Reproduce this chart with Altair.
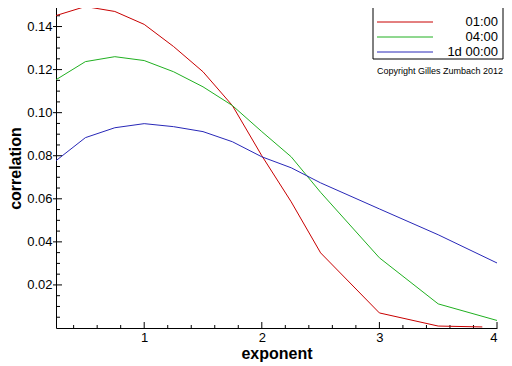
import altair as alt
import pandas as pd

# ---- data ----
series_names = ["01:00", "04:00", "1d 00:00"]
series_colors = ["#c80000", "#20b020", "#2828b8"]

red_x = [0.25, 0.5, 0.75, 1.0, 1.25, 1.5, 1.75, 2.0, 2.25, 2.5, 3.0, 3.5, 3.875]
red_y = [0.1451, 0.1493, 0.1470, 0.1410, 0.1307, 0.1190, 0.1033, 0.0800, 0.0586, 0.0349, 0.0070, 0.0009, 0.0005]

green_x = [0.25, 0.5, 0.75, 1.0, 1.25, 1.5, 1.75, 2.0, 2.25, 2.5, 3.0, 3.5, 4.0]
green_y = [0.1153, 0.1237, 0.1260, 0.1242, 0.1190, 0.1120, 0.1033, 0.0912, 0.0795, 0.0630, 0.0326, 0.0112, 0.0035]

blue_x = [0.25, 0.5, 0.75, 1.0, 1.25, 1.5, 1.75, 2.0, 2.25, 2.5, 3.0, 3.5, 4.0]
blue_y = [0.0777, 0.0884, 0.0930, 0.0949, 0.0935, 0.0912, 0.0865, 0.0795, 0.0744, 0.0674, 0.0553, 0.0433, 0.0302]

x_labels = [1, 2, 3, 4]
x_minor = [0.4, 0.6, 0.8, 1.2, 1.4, 1.6, 1.8, 2.2, 2.4, 2.6, 2.8, 3.2, 3.4, 3.6, 3.8]
y_labels = [0.02, 0.04, 0.06, 0.08, 0.10, 0.12, 0.14]
y_minor = [0.005, 0.01, 0.015, 0.025, 0.03, 0.035, 0.045, 0.05, 0.055, 0.065, 0.07, 0.075,
           0.085, 0.09, 0.095, 0.105, 0.11, 0.115, 0.125, 0.13, 0.135, 0.145]
copyright_text = "Copyright Gilles Zumbach 2012"

# ---- tables ----
rows = []
for name, xs, ys in zip(series_names, [red_x, green_x, blue_x], [red_y, green_y, blue_y]):
    for xv, yv in zip(xs, ys):
        rows.append({"series": name, "x": xv, "y": yv})
df = pd.DataFrame(rows)

W, H = 441, 323
FONT = "Liberation Sans"

x_scale = alt.Scale(domain=[0.25, 4], nice=False, zero=False)
y_scale = alt.Scale(domain=[0, 0.15], nice=False, zero=False)

x_axis = alt.Axis(title="exponent", values=x_labels, format="d",
                  ticks=False, tickSize=0, grid=False, labelPadding=3,
                  labelFontSize=13, labelFont=FONT, labelColor="black",
                  domainColor="black", domainWidth=1,
                  titleFontSize=16, titleFont=FONT, titleFontWeight="bold",
                  titleY=30, titleBaseline="alphabetic", titleColor="black")
y_axis = alt.Axis(title="correlation", values=y_labels, format=".2f",
                  ticks=False, tickSize=0, grid=False, labelPadding=4,
                  labelFontSize=13, labelFont=FONT, labelColor="black",
                  domainColor="black", domainWidth=1,
                  titleFontSize=16, titleFont=FONT, titleFontWeight="bold",
                  titleAngle=270, titleX=-36, titleY=163,
                  titleBaseline="alphabetic", titleAlign="center", titleColor="black")

lines = alt.Chart(df).mark_line(strokeWidth=1).encode(
    x=alt.X("x:Q", scale=x_scale, axis=x_axis),
    y=alt.Y("y:Q", scale=y_scale, axis=y_axis),
    color=alt.Color("series:N",
                    scale=alt.Scale(domain=series_names, range=series_colors),
                    legend=None),
    order=alt.Order("x:Q"),
)

xmaj = alt.Chart(pd.DataFrame({"x": x_labels})).mark_rule(color="black", strokeWidth=1).encode(
    x=alt.X("x:Q", scale=x_scale, axis=x_axis), y=alt.value(H), y2=alt.value(H - 6))
xmin = alt.Chart(pd.DataFrame({"x": x_minor})).mark_rule(color="black", strokeWidth=1).encode(
    x=alt.X("x:Q", scale=x_scale, axis=x_axis), y=alt.value(H), y2=alt.value(H - 3))
ymaj = alt.Chart(pd.DataFrame({"y": y_labels})).mark_rule(color="black", strokeWidth=1).encode(
    y=alt.Y("y:Q", scale=y_scale, axis=y_axis), x=alt.value(-3), x2=alt.value(6))
ymin = alt.Chart(pd.DataFrame({"y": y_minor})).mark_rule(color="black", strokeWidth=1).encode(
    y=alt.Y("y:Q", scale=y_scale, axis=y_axis), x=alt.value(0), x2=alt.value(4))

# ---- legend box (drawn by hand to match the reference's layout) ----
one = pd.DataFrame({"k": [0]})
legend_layers = [
    alt.Chart(one).mark_rect(fill="white", stroke="black", strokeWidth=1).encode(
        x=alt.value(317), x2=alt.value(447), y=alt.value(0), y2=alt.value(54))
]
for i, (name, col) in enumerate(zip(series_names, series_colors)):
    yy = 17 + 15 * i
    legend_layers.append(
        alt.Chart(one).mark_rule(color=col, strokeWidth=1).encode(
            x=alt.value(321), x2=alt.value(377), y=alt.value(yy)))
    legend_layers.append(
        alt.Chart(pd.DataFrame({"t": [name]})).mark_text(
            fontSize=13, font=FONT, align="right", baseline="middle", color="black"
        ).encode(text="t:N", x=alt.value(442), y=alt.value(yy)))

copyright = alt.Chart(pd.DataFrame({"t": [copyright_text]})).mark_text(
    fontSize=9, font=FONT, align="center", baseline="middle", color="black"
).encode(text="t:N", x=alt.value(384), y=alt.value(66))

chart = alt.layer(xmin, xmaj, ymin, ymaj, lines, *legend_layers, copyright).properties(
    width=W, height=H,
    autosize=alt.AutoSizeParams(type="none"),
    padding={"left": 48, "top": -3, "right": 7, "bottom": 36},
    background="white",
).configure_view(stroke=None)

chart.save("out.html", embed_options={"renderer": "svg", "actions": False})
